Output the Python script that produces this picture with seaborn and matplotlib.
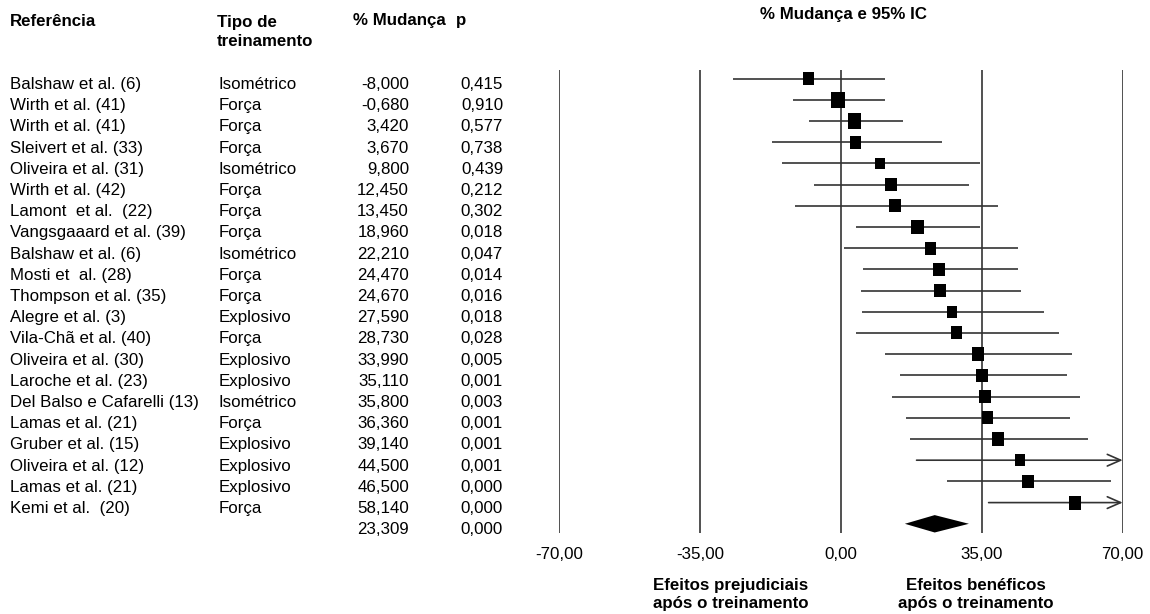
import numpy as np
import pandas as pd
import matplotlib
matplotlib.use("Agg")
import matplotlib.pyplot as plt
import matplotlib.transforms as mtransforms
import seaborn as sns

referencias = [
    "Balshaw et al. (6)", "Wirth et al. (41)", "Wirth et al. (41)",
    "Sleivert et al. (33)", "Oliveira et al. (31)", "Wirth et al. (42)",
    "Lamont  et al.  (22)", "Vangsgaaard et al. (39)", "Balshaw et al. (6)",
    "Mosti et  al. (28)", "Thompson et al. (35)", "Alegre et al. (3)",
    "Vila-Chã et al. (40)", "Oliveira et al. (30)", "Laroche et al. (23)",
    "Del Balso e Cafarelli (13)", "Lamas et al. (21)", "Gruber et al. (15)",
    "Oliveira et al. (12)", "Lamas et al. (21)", "Kemi et al.  (20)",
]
tipos = [
    "Isométrico", "Força", "Força", "Força", "Isométrico", "Força", "Força",
    "Força", "Isométrico", "Força", "Força", "Explosivo", "Força", "Explosivo",
    "Explosivo", "Isométrico", "Força", "Explosivo", "Explosivo", "Explosivo",
    "Força",
]
mudanca = [-8.0, -0.68, 3.42, 3.67, 9.8, 12.45, 13.45, 18.96, 22.21, 24.47,
           24.67, 27.59, 28.73, 33.99, 35.11, 35.8, 36.36, 39.14, 44.5, 46.5,
           58.14]
p_valores = [0.415, 0.910, 0.577, 0.738, 0.439, 0.212, 0.302, 0.018, 0.047,
             0.014, 0.016, 0.018, 0.028, 0.005, 0.001, 0.003, 0.001, 0.001,
             0.001, 0.000, 0.000]
# limites do IC 95% (valores > 70 saem do eixo)
ic_inf = [-26.7, -11.9, -8.0, -17.2, -14.5, -6.6, -11.5, 3.8, 0.8, 5.4, 5.0,
          5.3, 3.7, 10.9, 14.6, 12.8, 16.2, 17.2, 18.8, 26.3, 36.7]
ic_sup = [11.0, 11.0, 15.4, 25.0, 34.5, 31.9, 39.0, 34.5, 44.0, 44.0, 44.8,
          50.5, 54.2, 57.5, 56.1, 59.3, 56.9, 61.5, 70.2, 67.0, 79.6]
peso = [12.7, 15.0, 14.7, 12.0, 11.0, 12.7, 12.3, 14.0, 12.3, 13.0, 13.0,
        11.3, 12.3, 12.7, 13.0, 12.7, 12.3, 13.0, 11.7, 13.0, 13.3]

total_mudanca = 23.309
total_p = 0.000
total_inf = 15.9
total_sup = 31.8

ticks = [-70, -35, 0, 35, 70]
tick_labels = ["-70,00", "-35,00", "0,00", "35,00", "70,00"]


def fmt(v):
    return f"{v:.3f}".replace(".", ",")


sns.set_theme(style="white")
plt.rcParams["font.family"] = ["Liberation Sans", "DejaVu Sans"]
plt.rcParams["text.color"] = "black"
FS = 12.2
line_col = "#333333"

df = pd.DataFrame({
    "ref": referencias, "tipo": tipos, "mudanca": mudanca, "p": p_valores,
    "inf": ic_inf, "sup": ic_sup, "peso": peso,
})
df["linha"] = np.arange(1, len(df) + 1)

fig = plt.figure(figsize=(11.5, 6.14), dpi=100)
ax = fig.add_axes([559 / 1150, 1 - 532.7 / 614, (1122.7 - 559) / 1150,
                   (532.7 - 70.3) / 614])

for t in ticks:
    ax.axvline(t, color=line_col, lw=1.2, zorder=1)

for _, r in df.iterrows():
    if r["sup"] > ticks[-1]:
        ax.annotate("", xy=(ticks[-1], r["linha"]), xytext=(r["inf"], r["linha"]),
                    arrowprops=dict(arrowstyle="->,head_length=0.8,head_width=0.35",
                                    color=line_col, lw=1.2, shrinkA=0, shrinkB=0),
                    annotation_clip=False, zorder=2)
    else:
        ax.hlines(r["linha"], r["inf"], r["sup"], color=line_col, lw=1.2, zorder=2)

rect = [(-0.435, -0.5), (0.435, -0.5), (0.435, 0.5), (-0.435, 0.5), (-0.435, -0.5)]
sizes = {w: (w * 0.76) ** 2 for w in set(peso)}
sns.scatterplot(data=df, x="mudanca", y="linha", size="peso", sizes=sizes,
                marker=rect, color="black", linewidth=0, legend=False, ax=ax,
                zorder=3)

yt = len(df) + 1
h = 0.41
ax.fill([total_inf, total_mudanca, total_sup, total_mudanca],
        [yt, yt - h, yt, yt + h], color="black", lw=0, zorder=3)

ax.set_xlim(-70, 70)
ax.set_ylim(22.42, 0.61)
ax.set_xticks(ticks)
ax.set_xticklabels(tick_labels, fontsize=FS)
ax.set_yticks([])
ax.tick_params(axis="x", length=0, pad=10, colors="black")
ax.set_xlabel("")
ax.set_ylabel("")
sns.despine(ax=ax, left=True, bottom=True)

# tabela à esquerda
trans = mtransforms.blended_transform_factory(fig.transFigure, ax.transData)
dy = 0.49
for _, r in df.iterrows():
    y = r["linha"] + dy
    ax.text(10 / 1150, y, r["ref"], transform=trans, fontsize=FS, va="baseline")
    ax.text(219 / 1150, y, r["tipo"], transform=trans, fontsize=FS, va="baseline")
    ax.text(409 / 1150, y, fmt(r["mudanca"]), transform=trans, fontsize=FS,
            va="baseline", ha="right")
    ax.text(503 / 1150, y, fmt(r["p"]), transform=trans, fontsize=FS,
            va="baseline", ha="right")
ax.text(409 / 1150, yt + dy, fmt(total_mudanca), transform=trans, fontsize=FS,
        va="baseline", ha="right")
ax.text(503 / 1150, yt + dy, fmt(total_p), transform=trans, fontsize=FS,
        va="baseline", ha="right")

hy = 1 - 25.5 / 614
fig.text(10 / 1150, hy, "Referência", fontsize=FS, weight="bold", va="baseline")
fig.text(217 / 1150, 1 - 45.5 / 614, "Tipo de\ntreinamento", fontsize=FS,
         weight="bold", va="baseline", linespacing=1.3)
fig.text(353 / 1150, hy, "% Mudança", fontsize=FS, weight="bold", va="baseline")
fig.text(456 / 1150, hy, "p", fontsize=FS, weight="bold", va="baseline")

fig.text(843 / 1150, 1 - 15 / 614, "% Mudança e 95% IC", fontsize=FS,
         weight="bold", ha="center", va="center")
fig.text(731 / 1150, 1 - 594.5 / 614, "Efeitos prejudiciais\napós o treinamento",
         fontsize=FS, weight="bold", ha="center", va="center", linespacing=1.2)
fig.text(976 / 1150, 1 - 594.5 / 614, "Efeitos benéficos\napós o treinamento",
         fontsize=FS, weight="bold", ha="center", va="center", linespacing=1.2)

fig.savefig("out.png", dpi=100, facecolor="white")
